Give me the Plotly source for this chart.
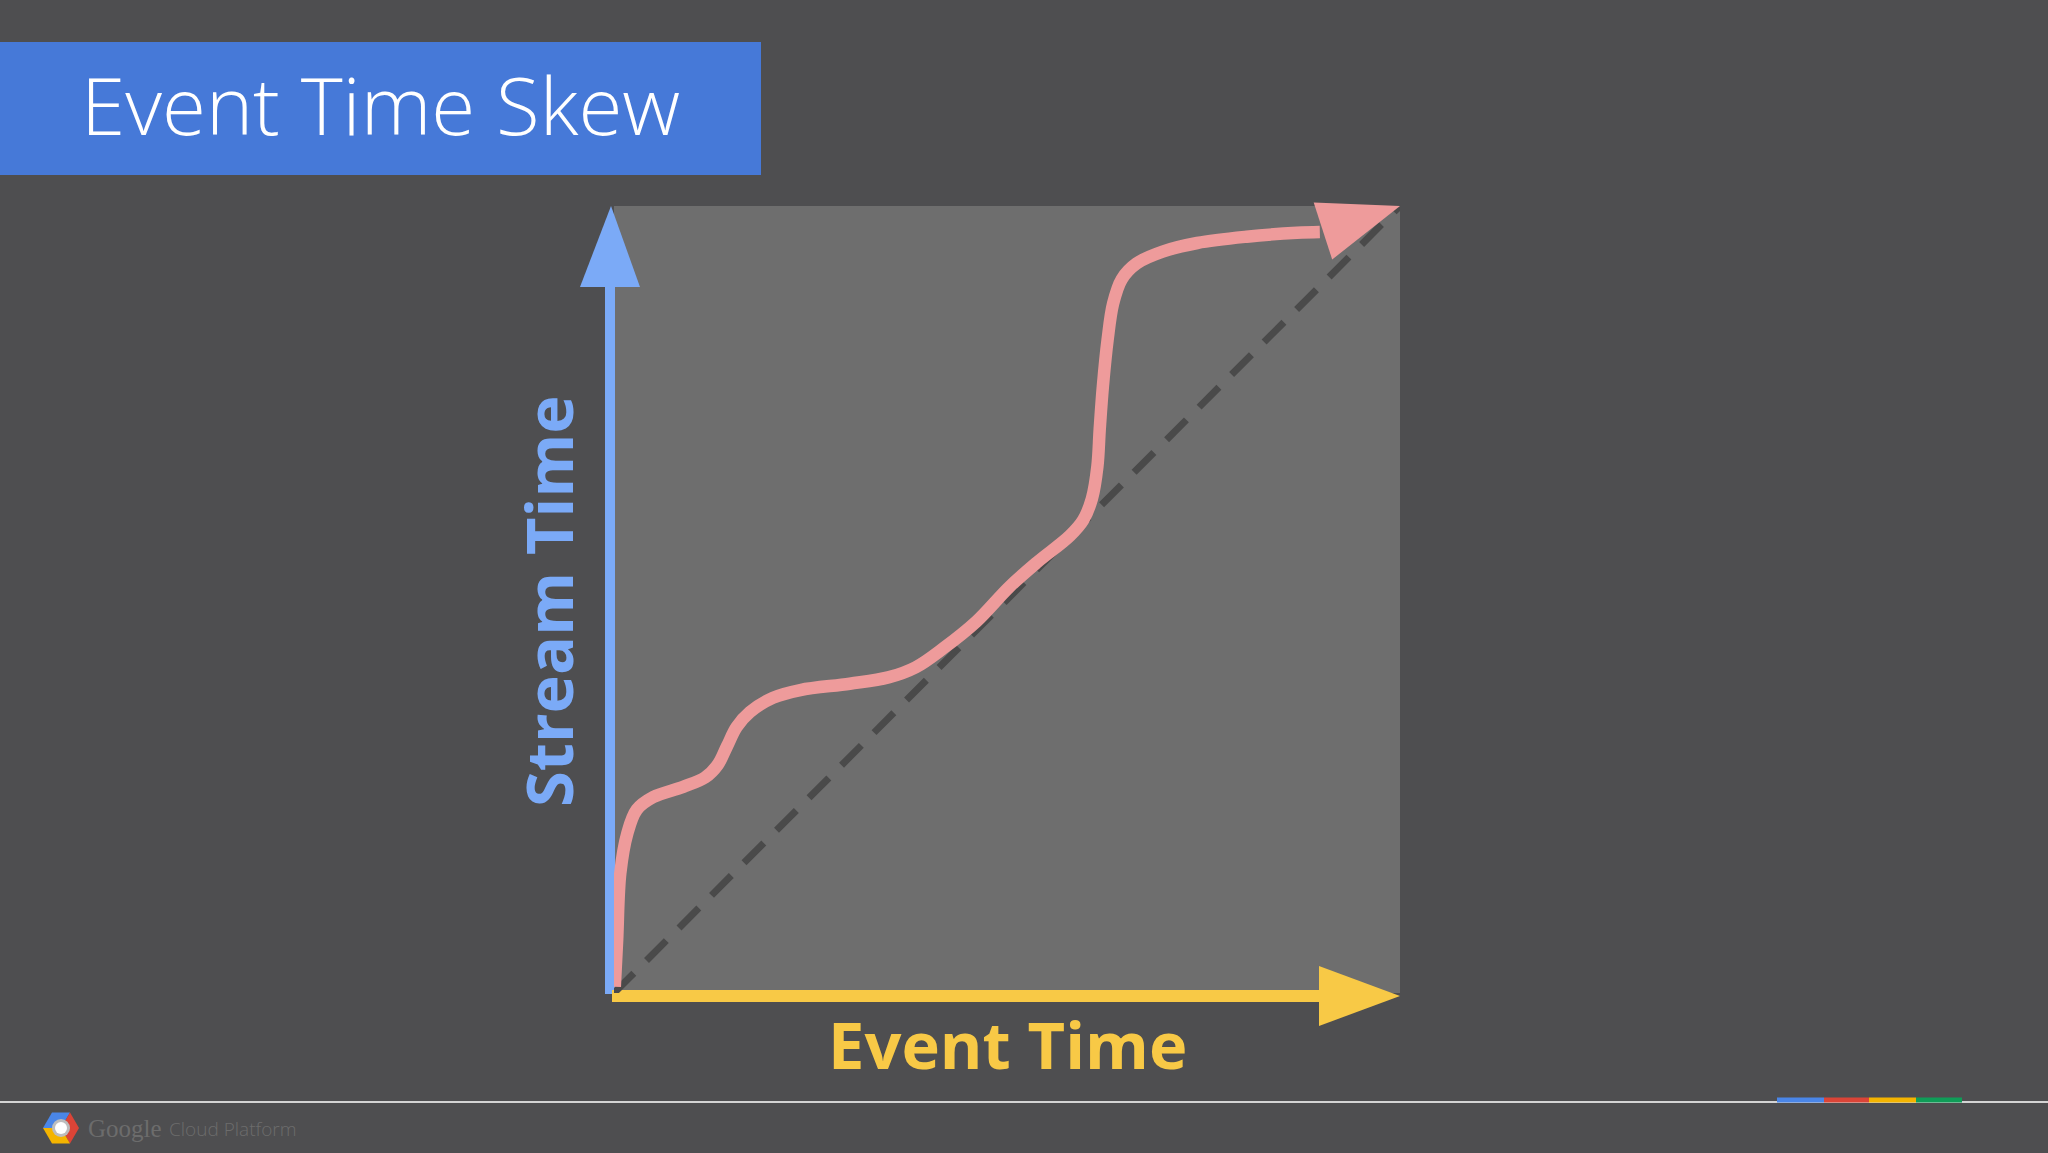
import math
import plotly.graph_objects as go

# ---------------- data ----------------
CURVE_X = [0.1, 0.4, 0.8, 1.7, 2.9, 5.0, 8.8, 11.6, 13.2, 14.4, 15.6, 17.3, 20.2, 23.7, 30.0,
           34.9, 38.4, 41.9, 46.1, 50.3, 53.8, 58.0, 59.7, 60.8, 61.5, 61.8, 62.2, 62.8,
           63.5, 64.6, 66.5, 69.8, 74.2, 80.5, 86.9, 89.8]
CURVE_Y = [0.8, 6.7, 15.2, 20.3, 23.3, 24.9, 26.2, 27.4, 29.0, 31.4, 33.8, 35.7, 37.5, 38.5, 39.3,
           40.1, 41.4, 43.8, 47.2, 51.6, 54.7, 58.1, 60.1, 62.8, 66.9, 71.7, 77.1, 83.0,
           87.6, 90.7, 92.7, 94.2, 95.3, 96.1, 96.6, 96.7]
ARROW_TIP = (100, 100)
DIAG_X = [0, 100]
DIAG_Y = [0, 100]

TITLE = "Event Time Skew"
X_LABEL = "Event Time"
Y_LABEL = "Stream Time"

# ---------------- layout constants ----------------
W, H = 2048, 1153
BOX_L, BOX_R, BOX_T, BOX_B = 614, 1400, 206, 993

BG = "#4e4e50"
BOX = "#6e6e6e"
BLUE_AX = "#7baaf7"
YELLOW = "#f8c946"
PINK = "#ee9b9b"
TITLE_BLUE = "#4679d8"


def PX(x):
    return x / W


def PY(y):
    return 1 - y / H


def d2px(x, y):
    return (BOX_L + x * (BOX_R - BOX_L) / 100.0, BOX_B - y * (BOX_B - BOX_T) / 100.0)


def tri_path(pts):
    return "M " + " L ".join(f"{PX(a):.5f},{PY(b):.5f}" for a, b in pts) + " Z"


fig = go.Figure()

fig.add_trace(go.Scatter(
    x=DIAG_X, y=DIAG_Y, mode="lines",
    line=dict(color="#4a4a4a", width=7, dash="28px,18px"),
    hoverinfo="skip", showlegend=False))

fig.add_trace(go.Scatter(
    x=CURVE_X, y=CURVE_Y, mode="lines",
    line=dict(color=PINK, width=12.5, shape="spline", smoothing=1.0),
    hoverinfo="skip", showlegend=False, cliponaxis=False))

shapes = []

# title box
shapes.append(dict(type="rect", xref="paper", yref="paper", x0=PX(0), x1=PX(761),
                   y0=PY(175), y1=PY(42), fillcolor=TITLE_BLUE, line=dict(width=0), layer="below"))

# axes arrows
AX_X, AX_Y = 610, 996
HEAD_L, HEAD_W = 81, 30
shapes.append(dict(type="line", xref="paper", yref="paper", x0=PX(AX_X), x1=PX(AX_X),
                   y0=PY(AX_Y - 2), y1=PY(BOX_T + HEAD_L - 2), line=dict(color=BLUE_AX, width=10), layer="below"))
shapes.append(dict(type="path", xref="paper", yref="paper",
                   path=tri_path([(AX_X - HEAD_W, BOX_T + HEAD_L), (AX_X + HEAD_W, BOX_T + HEAD_L), (AX_X + 1, BOX_T)]),
                   fillcolor=BLUE_AX, line=dict(width=0), layer="below"))
shapes.append(dict(type="line", xref="paper", yref="paper", x0=PX(AX_X + 2), x1=PX(BOX_R - HEAD_L + 2),
                   y0=PY(AX_Y), y1=PY(AX_Y), line=dict(color=YELLOW, width=12), layer="below"))
shapes.append(dict(type="path", xref="paper", yref="paper",
                   path=tri_path([(BOX_R - HEAD_L, AX_Y - HEAD_W), (BOX_R - HEAD_L, AX_Y + HEAD_W), (BOX_R, AX_Y)]),
                   fillcolor=YELLOW, line=dict(width=0), layer="below"))

# pink arrowhead from the curve end toward the tip
sx, sy = d2px(CURVE_X[-1], CURVE_Y[-1])
tx, ty = d2px(*ARROW_TIP)
dx, dy = tx - sx, ty - sy
dl = math.hypot(dx, dy)
ux, uy = dx / dl, dy / dl
bx, by = tx - HEAD_L * ux, ty - HEAD_L * uy
nx, ny = -uy, ux
shapes.append(dict(type="path", xref="paper", yref="paper",
                   path=tri_path([(bx + HEAD_W * nx, by + HEAD_W * ny), (bx - HEAD_W * nx, by - HEAD_W * ny), (tx, ty)]),
                   fillcolor=PINK, line=dict(width=0), layer="above"))

# footer line and colour bar
shapes.append(dict(type="line", xref="paper", yref="paper", x0=0, x1=1, y0=PY(1102), y1=PY(1102),
                   line=dict(color="#d4d4d4", width=2), layer="below"))
for x0, x1, c in [(1777, 1824, "#4a86e8"), (1824, 1869, "#db4437"), (1869, 1916, "#f4b400"), (1916, 1962, "#0f9d58")]:
    shapes.append(dict(type="line", xref="paper", yref="paper", x0=PX(x0), x1=PX(x1), y0=PY(1100), y1=PY(1100),
                       line=dict(color=c, width=5), layer="below"))

# Google Cloud logo (hexagon)
cx, cy, R = 61, 1128, 18
verts = [(cx + R * math.cos(math.radians(a)), cy - R * math.sin(math.radians(a))) for a in (0, 60, 120, 180, 240, 300)]
for idx, c in [((1, 2, 3), "#4a86e8"), ((5, 0, 1), "#db4437"), ((3, 4, 5), "#f4b400")]:
    pts = [(cx, cy)] + [verts[i] for i in idx]
    shapes.append(dict(type="path", xref="paper", yref="paper", path=tri_path(pts),
                       fillcolor=c, line=dict(width=0), layer="below"))
shapes.append(dict(type="circle", xref="paper", yref="paper", x0=PX(cx - 9), x1=PX(cx + 9), y0=PY(cy + 9), y1=PY(cy - 9),
                   fillcolor="#bdbdbd", line=dict(width=0), layer="below"))
shapes.append(dict(type="circle", xref="paper", yref="paper", x0=PX(cx - 6), x1=PX(cx + 6), y0=PY(cy + 6), y1=PY(cy - 6),
                   fillcolor="#ffffff", line=dict(width=0), layer="below"))

annotations = [
    dict(text=TITLE, xref="paper", yref="paper", x=PX(79), y=PY(103), xanchor="left", yanchor="middle",
         showarrow=False, font=dict(family="Open Sans", size=80, color="white", weight=300)),
    dict(text=Y_LABEL, xref="paper", yref="paper", x=PX(548), y=PY(601), xanchor="center", yanchor="middle",
         textangle=-90, showarrow=False, font=dict(family="Open Sans", size=65, color=BLUE_AX, weight="bold")),
    dict(text=X_LABEL, xref="paper", yref="paper", x=PX(1007), y=PY(1044), xanchor="center", yanchor="middle",
         showarrow=False, font=dict(family="Open Sans", size=65, color=YELLOW, weight="bold")),
    dict(text="Google", xref="paper", yref="paper", x=PX(86), y=PY(1128), xanchor="left", yanchor="middle",
         showarrow=False, font=dict(family="Liberation Serif", size=25, color="#6c6c6c")),
    dict(text="Cloud Platform", xref="paper", yref="paper", x=PX(167), y=PY(1129), xanchor="left", yanchor="middle",
         showarrow=False, font=dict(family="Open Sans", size=19, color="#6c6c6c", weight=300)),
]

fig.update_layout(
    width=W, height=H,
    margin=dict(l=0, r=0, t=0, b=0),
    paper_bgcolor=BG, plot_bgcolor=BOX,
    xaxis=dict(domain=[PX(BOX_L), PX(BOX_R)], range=[0, 100], visible=False, fixedrange=True),
    yaxis=dict(domain=[PY(BOX_B), PY(BOX_T)], range=[0, 100], visible=False, fixedrange=True),
    shapes=shapes, annotations=annotations, showlegend=False,
)

fig.write_html("out.html", config={"displayModeBar": False},
               post_script="document.body.style.margin='0';document.body.style.overflow='hidden';")
